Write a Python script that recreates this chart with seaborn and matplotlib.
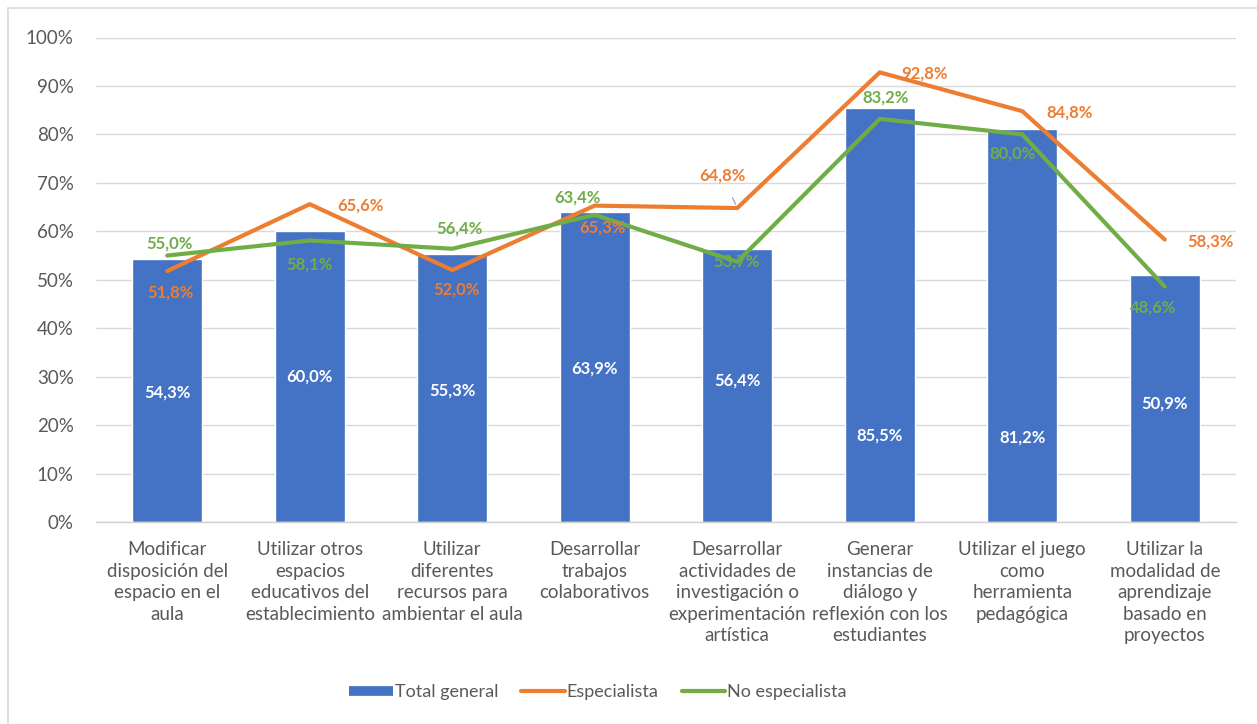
import numpy as np
import pandas as pd
import matplotlib
matplotlib.use("Agg")
import matplotlib.pyplot as plt
from matplotlib.lines import Line2D
from matplotlib.patches import Rectangle
import seaborn as sns

# --- data -------------------------------------------------------------
categorias = [
    "Modificar\ndisposición del\nespacio en el\naula",
    "Utilizar otros\nespacios\neducativos del\nestablecimiento",
    "Utilizar\ndiferentes\nrecursos para\nambientar el aula",
    "Desarrollar\ntrabajos\ncolaborativos",
    "Desarrollar\nactividades de\ninvestigación o\nexperimentación\nartística",
    "Generar\ninstancias de\ndiálogo y\nreflexión con los\nestudiantes",
    "Utilizar el juego\ncomo\nherramienta\npedagógica",
    "Utilizar la\nmodalidad de\naprendizaje\nbasado en\nproyectos",
]
total_general = [54.3, 60.0, 55.3, 63.9, 56.4, 85.5, 81.2, 50.9]
especialista = [51.8, 65.6, 52.0, 65.3, 64.8, 92.8, 84.8, 58.3]
no_especialista = [55.0, 58.1, 56.4, 63.4, 53.7, 83.2, 80.0, 48.6]
y_ticks = [0, 10, 20, 30, 40, 50, 60, 70, 80, 90, 100]
series_names = ["Total general", "Especialista", "No especialista"]

# --- styling ----------------------------------------------------------
C_BAR = "#4472C4"
C_ESP = "#ED7D31"
C_NOESP = "#70AD47"
C_GRID = "#D9D9D9"
C_TEXT = "#595959"

sns.set_theme(style="white")
plt.rcParams["font.family"] = ["Lato", "DejaVu Sans"]

W, H = 1257, 724
fig = plt.figure(figsize=(W / 100, H / 100), dpi=100)
fig.patch.set_facecolor("white")
ax = fig.add_axes([96 / W, 1 - 522 / H, (1236 - 96) / W, (522 - 37.5) / H])

df = pd.DataFrame({
    "categoria": categorias,
    "pos": np.arange(len(categorias)),
    "total": total_general,
    "esp": especialista,
    "noesp": no_especialista,
})

sns.barplot(data=df, x="categoria", y="total", color=C_BAR, saturation=1,
            width=0.49, ax=ax, zorder=2)
sns.lineplot(data=df, x="pos", y="esp", color=C_ESP, linewidth=3.0,
             sort=False, ax=ax, zorder=3)
sns.lineplot(data=df, x="pos", y="noesp", color=C_NOESP, linewidth=3.0,
             sort=False, ax=ax, zorder=4)

ax.set_xlim(-0.5, len(categorias) - 0.5)
ax.set_ylim(0, 100)
ax.set_yticks(y_ticks)
ax.set_yticklabels([f"{t}%" for t in y_ticks], color=C_TEXT, fontsize=13.5)
ax.set_xticks(np.arange(len(categorias)))
ax.set_xticklabels(categorias, color=C_TEXT, fontsize=13.5,
                   linespacing=1.32, va="top")
ax.tick_params(axis="x", length=0, pad=14)
ax.tick_params(axis="y", length=0, pad=16)
ax.set_xlabel("")
ax.set_ylabel("")
ax.grid(axis="y", color=C_GRID, linewidth=1, zorder=0)
ax.set_axisbelow(True)
for s in ["left", "right", "top"]:
    ax.spines[s].set_visible(False)
ax.spines["bottom"].set_color("#D0D0D0")
ax.spines["bottom"].set_linewidth(1)


def pct(v):
    return f"{v:.1f}%".replace(".", ",")


# label offsets in pixels (dx, dy)
off_total = [(0, -2), (0, 0), (0, -2), (0, -1), (0, 5), (0, -121), (0, -112), (0, -5)]
off_esp = [(3, -21), (51, -1), (4, -19), (8, -22), (-15, 33), (45, -1), (47, -1), (46, -2)]
off_noesp = [(2, 12), (0, -24), (7, 20), (-17, 17), (-1, 0), (6, 21), (-10, -19), (-12, -21)]

lbl_kw = dict(textcoords="offset pixels", ha="center", va="center",
              fontsize=12, fontweight="bold", clip_on=False)

for i, v in enumerate(total_general):
    ax.annotate(pct(v), (i, v / 2), xytext=off_total[i], color="white",
                zorder=6, **lbl_kw)
for i, v in enumerate(especialista):
    kw = dict(lbl_kw)
    if i == 4:
        kw["arrowprops"] = dict(arrowstyle="-", color="#7F9BC8", lw=0.8,
                                shrinkA=9, shrinkB=3)
    ax.annotate(pct(v), (i, v), xytext=off_esp[i], color=C_ESP,
                zorder=5, **kw)
for i, v in enumerate(no_especialista):
    ax.annotate(pct(v), (i, v), xytext=off_noesp[i], color=C_NOESP,
                zorder=7, **lbl_kw)

# legend
handles = [
    Line2D([], [], color=C_BAR, linewidth=7, solid_capstyle="butt"),
    Line2D([], [], color=C_ESP, linewidth=3.0),
    Line2D([], [], color=C_NOESP, linewidth=3.0),
]
leg = fig.legend(handles, series_names, loc="center",
                 bbox_to_anchor=(598 / W, 1 - 692 / H), ncol=3, frameon=False,
                 fontsize=13, handlelength=2.4, handletextpad=0.1,
                 columnspacing=1.3)
for t in leg.get_texts():
    t.set_color(C_TEXT)

# outer frame (left and top edges visible)
fig.patches.append(Rectangle((8 / W, -0.1), 1.2, 1.1 - 8 / H,
                             transform=fig.transFigure, fill=False,
                             edgecolor="#D9D9D9", linewidth=1.2))

fig.savefig("out.png", dpi=100)
